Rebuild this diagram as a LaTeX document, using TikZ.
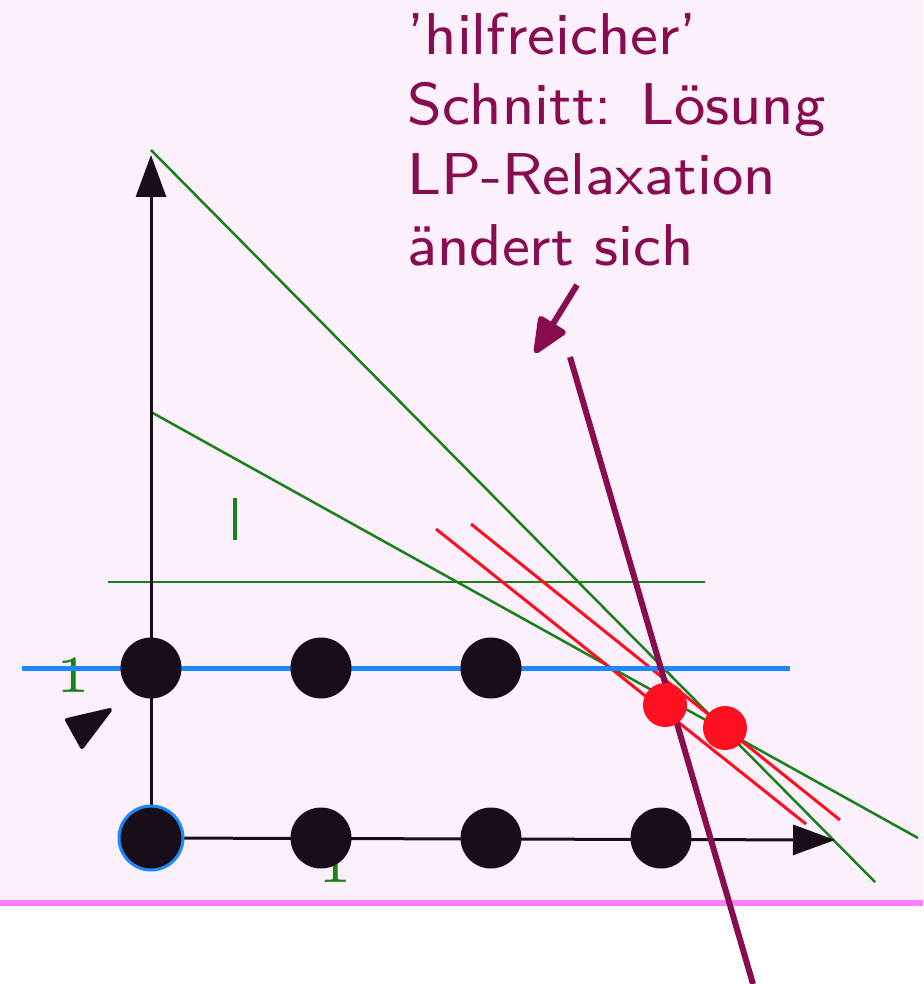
\documentclass[tikz,border=0pt]{standalone}
\usepackage{fontspec}
\newfontfamily\lmsseight{lmsans8-regular.otf}
\newfontfamily\lmrfive{lmroman5-regular.otf}
\usetikzlibrary{arrows.meta}
\definecolor{bgpink}{RGB}{253,240,253}
\definecolor{pinkline}{RGB}{255,128,255}
\definecolor{cutgreen}{RGB}{26,128,26}
\definecolor{cutred}{RGB}{255,16,32}
\definecolor{cutpurple}{RGB}{136,12,80}
\definecolor{lineblue}{RGB}{30,136,255}
\definecolor{dotblack}{RGB}{24,14,26}
\tikzset{
  gline/.style={draw=cutgreen, line width=2.5pt},
  rline/.style={draw=cutred, line width=3pt},
  axisline/.style={draw=dotblack, line width=3pt, -{Triangle[length=42pt,width=30pt]}},
  gdot/.style={circle, fill=dotblack, minimum size=61pt, inner sep=0pt},
  rdot/.style={circle, fill=cutred, minimum size=44pt, inner sep=0pt},
  purpletext/.style={text=cutpurple, font=\lmsseight\fontsize{59}{70}\selectfont, inner sep=0pt, anchor=base west},
  greenlabel/.style={text=cutgreen, font=\lmrfive\fontsize{52}{60}\selectfont, inner sep=0pt, anchor=base},
}
\begin{document}
\begin{tikzpicture}[x=1pt,y=-1pt]
\useasboundingbox (0,0) rectangle (923,984);
\fill[bgpink] (0,0) rectangle (923,903);
\draw[pinkline, line width=6pt] (0,903) -- (923,903);

% labels
\node[greenlabel] (lab1) at (73,692) {1};
\node[greenlabel] (lab2) at (335,882) {1};
\coordinate (bar1) at (235,498);
\coordinate (bar2) at (235,540);
\draw[gline, line width=3.5pt] (bar1) -- (bar2);

% green cuts
\coordinate (g1a) at (151,150);
\coordinate (g1b) at (875,882);
\coordinate (g2a) at (151,412);
\coordinate (g2b) at (918,838);
\coordinate (g3a) at (108,582);
\coordinate (g3b) at (705,582);
\draw[gline] (g1a) -- (g1b);
\draw[gline] (g2a) -- (g2b);
\draw[gline] (g3a) -- (g3b);

% red cuts
\coordinate (r1a) at (436,529);
\coordinate (r1b) at (806,824);
\coordinate (r2a) at (471,524);
\coordinate (r2b) at (840,820);
\draw[rline] (r1a) -- (r1b);
\draw[rline] (r2a) -- (r2b);

% axes
\coordinate (origin) at (151,838);
\coordinate (ytip) at (151,155);
\coordinate (xtip) at (835,840);
\draw[axisline] (origin) -- (ytip);
\draw[axisline] (origin) -- (xtip);

% blue line
\coordinate (b1) at (22,668);
\coordinate (b2) at (790,668);
\draw[draw=lineblue, line width=5pt] (b1) -- (b2);

% stray arrowhead
\coordinate (s1) at (67,720);
\coordinate (s2) at (110,710);
\coordinate (s3) at (82,747);
\filldraw[fill=dotblack, draw=dotblack, line width=4pt, line join=round] (s1) -- (s2) -- (s3) -- cycle;

% grid points
\node[gdot, draw=lineblue, line width=3pt, minimum size=64pt] (p00) at (151,838) {};
\node[gdot] (p10) at (321,838) {};
\node[gdot] (p20) at (491,838) {};
\node[gdot] (p30) at (661,838) {};
\node[gdot] (p01) at (151,668) {};
\node[gdot] (p11) at (321,668) {};
\node[gdot] (p21) at (491,668) {};

% purple cut
\coordinate (c1) at (570,357);
\coordinate (c2) at (753,984);
\draw[draw=cutpurple, line width=6pt] (c1) -- (c2);

% red LP points
\node[rdot] (lp1) at (665,705) {};
\node[rdot] (lp2) at (725,728) {};

% text
\node[purpletext] (t1) at (407,55) {’hilfreicher’};
\node[purpletext] (t2) at (407,125) {Schnitt: Lösung};
\node[purpletext] (t3) at (407,195) {LP-Relaxation};
\node[purpletext] (t4) at (407,265) {ändert sich};

% pointer arrow
\coordinate (pa) at (577,285);
\coordinate (pb) at (535,353);
\draw[draw=cutpurple, line width=6pt, -{Triangle[length=40pt,width=33pt,round]}] (pa) -- (pb);
\end{tikzpicture}
\end{document}
